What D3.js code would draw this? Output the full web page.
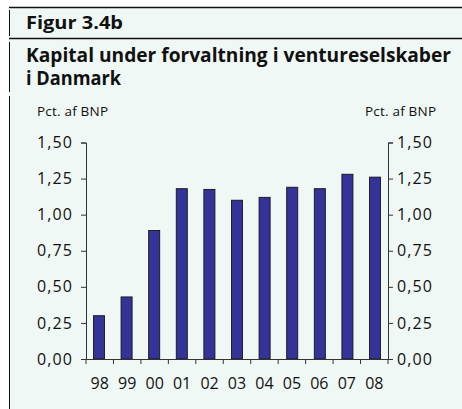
<!DOCTYPE html>
<html>
<head>
<meta charset="utf-8">
<script src="https://cdn.jsdelivr.net/npm/d3@7"></script>
<style>
  body { margin: 0; background: #fff; }
  text { font-family: "Open Sans", "Noto Sans", sans-serif; fill: #111; }
</style>
</head>
<body>
<svg id="chart" width="462" height="409"></svg>
<script>
// data
var years = ["98", "99", "00", "01", "02", "03", "04", "05", "06", "07", "08"];
var capital = [0.30, 0.43, 0.89, 1.18, 1.175, 1.10, 1.12, 1.19, 1.18, 1.28, 1.26];
var yTicks = [0, 0.25, 0.5, 0.75, 1.0, 1.25, 1.5];

var W = 462, H = 409;
var plotL = 86, plotR = 388, plotT = 142.5, plotB = 359;

var svg = d3.select("#chart");

// background + frame lines
svg.append("rect").attr("x", 9).attr("y", 7).attr("width", W - 9).attr("height", H - 7).attr("fill", "#f0f8f5");
svg.append("line").attr("x1", 9).attr("x2", W).attr("y1", 7.5).attr("y2", 7.5).attr("stroke", "#111").attr("stroke-width", 1.3);
svg.append("line").attr("x1", 9).attr("x2", W).attr("y1", 38.5).attr("y2", 38.5).attr("stroke", "#111").attr("stroke-width", 1.3);
[[10, 36], [42, 92], [96, 409]].forEach(function(s){
  svg.append("line").attr("x1", 9.5).attr("x2", 9.5).attr("y1", s[0]).attr("y2", s[1]).attr("stroke", "#111").attr("stroke-width", 1);
});

// titles
svg.append("text").attr("x", 26).attr("y", 29).attr("font-size", 18).attr("font-weight", "bold")
  .attr("textLength", 97).attr("lengthAdjust", "spacingAndGlyphs").text("Figur 3.4b");
svg.append("text").attr("x", 26).attr("y", 62).attr("font-size", 20).attr("font-weight", "bold")
  .attr("textLength", 425).attr("lengthAdjust", "spacingAndGlyphs")
  .text("Kapital under forvaltning i ventureselskaber");
svg.append("text").attr("x", 26).attr("y", 85).attr("font-size", 20).attr("font-weight", "bold")
  .attr("textLength", 95).attr("lengthAdjust", "spacingAndGlyphs")
  .text("i Danmark");

svg.append("text").attr("x", 37).attr("y", 116).attr("font-size", 13.5).attr("textLength", 71).text("Pct. af BNP");
svg.append("text").attr("x", 365).attr("y", 116).attr("font-size", 13.5).attr("textLength", 71).text("Pct. af BNP");

// scales
var x = d3.scaleBand().domain(years).range([plotL, plotR]).paddingInner(0.6).paddingOuter(0.27);
var xb = d3.scaleBand().domain(years).range([plotL, plotR]);
var y = d3.scaleLinear().domain([0, 1.5]).range([plotB, plotT]);
var fmt = function(d){ return d3.format(".2f")(d).replace(".", ","); };

// bars
svg.append("g").selectAll("rect").data(capital).enter().append("rect")
  .attr("x", function(d, i){ return x(years[i]); })
  .attr("y", function(d){ return y(d); })
  .attr("width", x.bandwidth())
  .attr("height", function(d){ return plotB - y(d); })
  .attr("fill", "#333399")
  .attr("stroke", "#151515")
  .attr("stroke-width", 0.9);

// axes
var yl = svg.append("g").attr("transform", "translate(" + plotL + ",0)")
  .call(d3.axisLeft(y).tickValues(yTicks).tickFormat(fmt).tickSize(5).tickPadding(9));
var yr = svg.append("g").attr("transform", "translate(" + plotR + ",0)")
  .call(d3.axisRight(y).tickValues(yTicks).tickFormat(fmt).tickSize(5).tickPadding(4));
[yl, yr].forEach(function(g){
  g.select(".domain").attr("stroke", "#333");
  g.selectAll(".tick line").attr("stroke", "#333");
  g.selectAll("text").attr("font-size", 16).attr("font-family", "Open Sans, sans-serif").attr("fill", "#111")
    .attr("textLength", 35);
});

var xa = svg.append("g").attr("transform", "translate(0," + plotB + ")")
  .call(d3.axisBottom(xb).tickSize(0).tickPadding(19));
xa.select(".domain").attr("stroke", "#333");
xa.selectAll("text").attr("font-size", 16).attr("font-family", "Open Sans, sans-serif").attr("fill", "#111");
// boundary ticks between categories
var edges = years.map(function(d){ return xb(d); }).concat([plotR]);
svg.append("g").selectAll("line").data(edges).enter().append("line")
  .attr("x1", function(d){ return d; }).attr("x2", function(d){ return d; })
  .attr("y1", plotB).attr("y2", plotB + 5)
  .attr("stroke", "#333");
</script>
</body>
</html>
